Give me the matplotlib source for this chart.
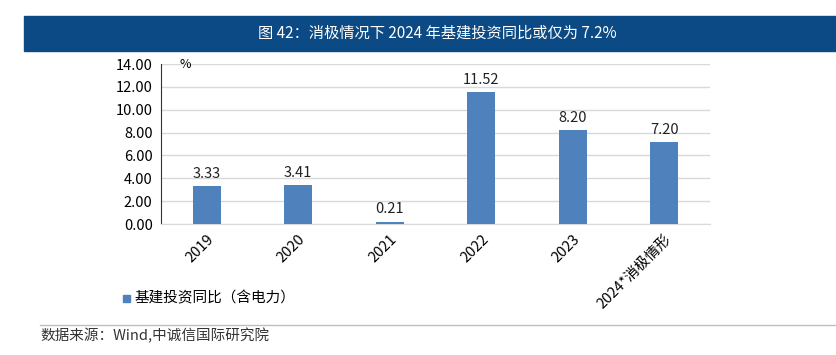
import matplotlib.pyplot as plt
from matplotlib.patches import Rectangle
from matplotlib.lines import Line2D

plt.rcParams['font.family'] = ['Noto Sans CJK SC', 'DejaVu Sans']

categories = ["2019", "2020", "2021", "2022", "2023", "2024*消极情形"]
values = [3.33, 3.41, 0.21, 11.52, 8.20, 7.20]
yticks = [0, 2, 4, 6, 8, 10, 12, 14]

W, H = 837, 355
fig = plt.figure(figsize=(W / 100, H / 100), dpi=100)

# title band
fig.patches.append(Rectangle((24 / W, 1 - 51 / H), 1 - 24 / W, 35 / H,
                             transform=fig.transFigure, color="#0B4A84", zorder=0))
fig.text(437 / W, 1 - 33 / H, "图 42：消极情况下 2024 年基建投资同比或仅为 7.2%",
         color="white", fontsize=11, ha="center", va="center")

ax = fig.add_axes([161 / W, 1 - 224 / H, (710 - 161) / W, (224 - 64) / H])
x = range(len(categories))
ax.bar(x, values, width=0.31, color="#4F81BD", zorder=3)
for xi, v in zip(x, values):
    ax.text(xi, v + 0.45, f"{v:.2f}", ha="center", va="bottom", fontsize=10.5, color="#222222")

ax.set_xlim(-0.5, len(categories) - 0.5)
ax.set_ylim(0, 14)
ax.set_yticks(yticks)
ax.set_yticklabels([f"{t:.2f}" for t in yticks], fontsize=10.5)
ax.set_xticks(list(x))
ax.set_xticklabels(categories, rotation=45, ha="right", rotation_mode="anchor", fontsize=10.5)
ax.tick_params(axis="both", length=0, pad=6)
ax.grid(axis="y", color="#D9D9D9", linewidth=1, zorder=0)
for s in ["top", "right"]:
    ax.spines[s].set_visible(False)
ax.spines["left"].set_color("#333333")
ax.spines["bottom"].set_color("#D9D9D9")
ax.text(0.045, 1.0, "%", transform=ax.transAxes, fontsize=9, ha="center", va="center")

# legend
fig.patches.append(Rectangle((123 / W, 1 - 302 / H), 7 / W, 7 / H,
                             transform=fig.transFigure, color="#4F81BD"))
fig.text(135 / W, 1 - 298 / H, "基建投资同比（含电力）", fontsize=10.5, va="center")

# footer
fig.lines.append(Line2D([40 / W, 1], [1 - 325 / H, 1 - 325 / H],
                        transform=fig.transFigure, color="#BFBFBF", linewidth=1))
fig.text(40 / W, 1 - 336 / H, "数据来源：Wind,中诚信国际研究院", fontsize=10.5, va="center",
         color="#333333")

fig.savefig("out.png", dpi=100)
